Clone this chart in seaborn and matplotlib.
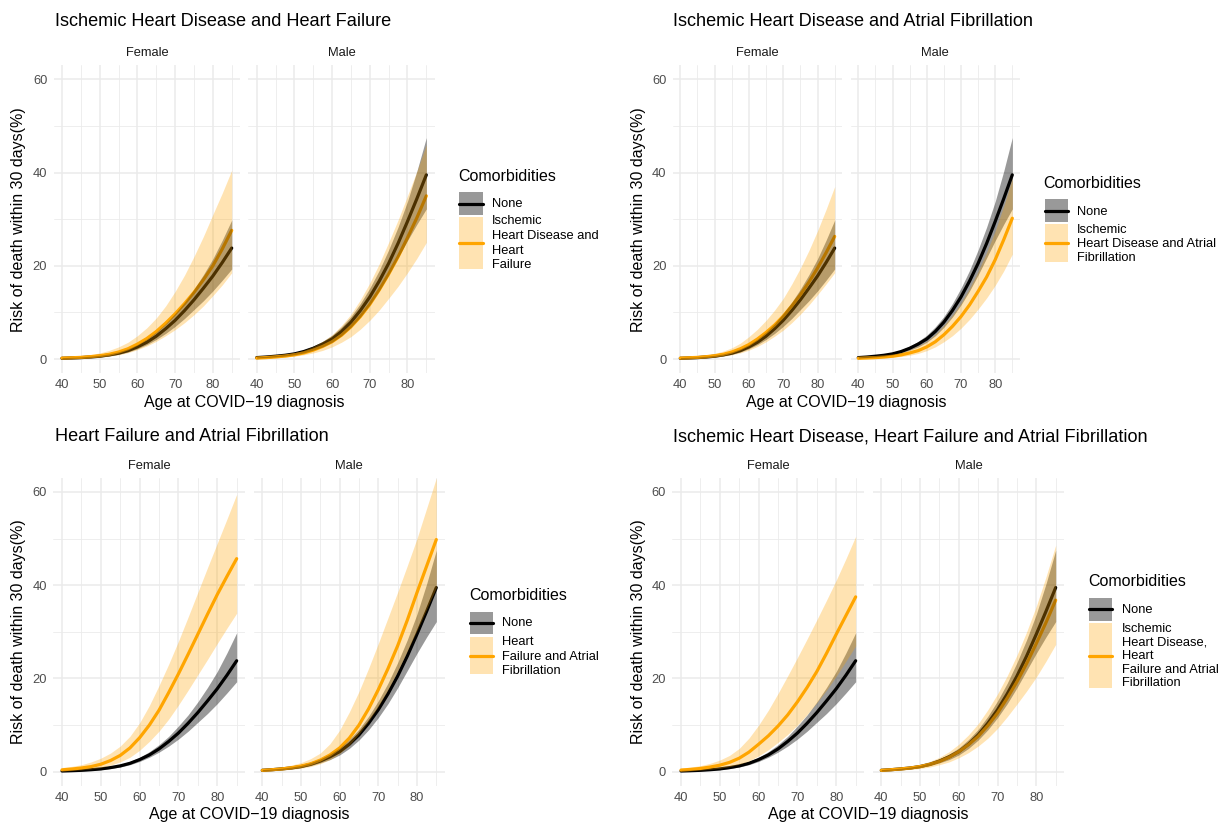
import matplotlib
matplotlib.use("Agg")
import matplotlib.pyplot as plt
import seaborn as sns
import pandas as pd
from matplotlib.patches import Rectangle
from matplotlib.lines import Line2D

# ---------------- data ----------------
ages = [40, 42.5, 45, 47.5, 50, 52.5, 55, 57.5, 60, 62.5, 65, 67.5, 70, 72.5, 75, 77.5, 80, 82.5, 85]

none_f = [0.15, 0.22, 0.3, 0.43, 0.6, 0.88, 1.25, 1.8, 2.6, 3.6, 4.9, 6.5, 8.3, 10.4, 12.7, 15.2, 17.8, 20.7, 23.8]
none_f_lo = [0.08, 0.13, 0.2, 0.3, 0.45, 0.68, 1.0, 1.5, 2.2, 3.1, 4.2, 5.5, 7.0, 8.7, 10.6, 12.5, 14.6, 16.9, 19.3]
none_f_hi = [0.3, 0.37, 0.45, 0.6, 0.8, 1.1, 1.55, 2.2, 3.1, 4.3, 5.8, 7.6, 9.8, 12.2, 15.0, 18.1, 21.5, 25.5, 29.8]
none_m = [0.3, 0.43, 0.6, 0.8, 1.1, 1.6, 2.3, 3.2, 4.3, 5.9, 7.9, 10.4, 13.3, 16.7, 20.5, 24.8, 29.5, 34.4, 39.5]
none_m_lo = [0.2, 0.3, 0.45, 0.63, 0.9, 1.3, 1.9, 2.6, 3.6, 5.0, 6.8, 9.0, 11.6, 14.6, 18.0, 21.7, 25.4, 28.9, 32.2]
none_m_hi = [0.45, 0.58, 0.75, 1.0, 1.35, 1.95, 2.75, 3.8, 5.1, 6.9, 9.1, 11.9, 15.2, 19.0, 23.4, 28.3, 33.8, 40.3, 47.5]

ihd_hf_f = [0.2, 0.27, 0.35, 0.5, 0.7, 1.0, 1.5, 2.2, 3.2, 4.4, 5.9, 7.7, 9.7, 11.9, 14.3, 17.0, 20.0, 23.6, 27.6]
ihd_hf_f_lo = [0.05, 0.1, 0.15, 0.26, 0.4, 0.6, 0.9, 1.35, 2.0, 2.8, 3.8, 5.0, 6.3, 7.8, 9.5, 11.4, 13.6, 15.9, 18.5]
ihd_hf_f_hi = [0.45, 0.56, 0.7, 0.95, 1.3, 1.85, 2.6, 3.6, 5.0, 6.7, 8.8, 11.4, 14.5, 18.0, 22.0, 26.3, 31.0, 35.6, 40.5]
ihd_hf_m = [0.2, 0.3, 0.45, 0.63, 0.9, 1.3, 1.9, 2.7, 3.7, 5.1, 6.9, 9.1, 11.7, 14.8, 18.2, 21.9, 26.0, 30.3, 35.0]
ihd_hf_m_lo = [0.1, 0.16, 0.25, 0.4, 0.6, 0.9, 1.3, 1.85, 2.6, 3.6, 4.8, 6.4, 8.3, 10.5, 13.0, 15.6, 18.5, 21.6, 25.0]
ihd_hf_m_hi = [0.45, 0.56, 0.7, 0.95, 1.3, 1.9, 2.7, 3.8, 5.2, 7.2, 9.6, 12.7, 16.3, 20.4, 25.0, 29.8, 35.0, 40.3, 46.0]

ihd_af_f = [0.2, 0.27, 0.35, 0.5, 0.7, 1.0, 1.5, 2.2, 3.1, 4.3, 5.7, 7.3, 9.2, 11.4, 13.8, 16.5, 19.5, 22.8, 26.3]
ihd_af_f_lo = [0.05, 0.1, 0.15, 0.26, 0.4, 0.6, 0.9, 1.3, 1.9, 2.7, 3.7, 4.9, 6.2, 7.8, 9.6, 11.6, 13.8, 16.1, 18.5]
ihd_af_f_hi = [0.45, 0.56, 0.7, 0.9, 1.2, 1.7, 2.4, 3.4, 4.8, 6.4, 8.3, 10.5, 13.0, 16.1, 19.5, 23.3, 27.5, 32.1, 37.0]
ihd_af_m = [0.15, 0.22, 0.3, 0.43, 0.6, 0.88, 1.3, 1.8, 2.6, 3.7, 5.2, 7.0, 9.1, 11.6, 14.5, 17.6, 21.3, 25.6, 30.2]
ihd_af_m_lo = [0.05, 0.1, 0.15, 0.24, 0.35, 0.54, 0.8, 1.2, 1.8, 2.6, 3.7, 5.0, 6.6, 8.5, 10.7, 13.1, 15.8, 18.9, 22.5]
ihd_af_m_hi = [0.35, 0.44, 0.55, 0.75, 1.0, 1.4, 2.0, 2.8, 3.8, 5.3, 7.2, 9.4, 12.0, 15.2, 18.8, 22.9, 27.5, 32.8, 38.8]

hf_af_f = [0.4, 0.57, 0.8, 1.1, 1.6, 2.4, 3.5, 5.1, 7.3, 10.0, 13.2, 17.0, 21.0, 25.2, 29.5, 33.8, 38.0, 41.9, 45.7]
hf_af_f_lo = [0.15, 0.25, 0.4, 0.6, 0.9, 1.4, 2.1, 3.1, 4.6, 6.5, 8.7, 11.3, 14.3, 17.5, 20.8, 24.1, 27.5, 30.8, 34.0]
hf_af_f_hi = [0.9, 1.15, 1.5, 2.1, 2.9, 4.0, 5.5, 7.6, 10.5, 14.2, 18.5, 23.1, 28.0, 33.2, 38.5, 43.8, 49.0, 54.2, 59.5]
hf_af_m = [0.3, 0.43, 0.6, 0.85, 1.2, 1.7, 2.5, 3.6, 5.1, 7.2, 10.0, 13.5, 17.6, 22.1, 27.0, 32.5, 38.4, 44.1, 49.8]
hf_af_m_lo = [0.15, 0.23, 0.35, 0.5, 0.75, 1.1, 1.7, 2.6, 3.9, 5.7, 8.1, 10.9, 14.0, 17.6, 21.6, 25.9, 30.3, 34.9, 39.5]
hf_af_m_hi = [0.55, 0.75, 1.0, 1.4, 1.95, 2.8, 4.0, 6.0, 8.9, 12.8, 17.2, 22.2, 27.5, 33.0, 38.5, 44.2, 50.0, 56.5, 63.0]

all3_f = [0.35, 0.5, 0.7, 1.0, 1.4, 2.0, 2.9, 4.2, 5.9, 7.7, 9.8, 12.2, 15.0, 18.1, 21.5, 25.4, 29.5, 33.5, 37.5]
all3_f_lo = [0.1, 0.2, 0.35, 0.52, 0.75, 1.1, 1.6, 2.3, 3.4, 4.7, 6.3, 8.0, 10.0, 12.3, 14.8, 17.5, 20.5, 23.7, 27.0]
all3_f_hi = [0.8, 1.0, 1.3, 1.8, 2.5, 3.5, 5.0, 7.2, 10.0, 13.2, 16.8, 20.6, 24.5, 28.5, 32.6, 36.8, 41.1, 45.7, 50.5]
all3_m = [0.3, 0.43, 0.6, 0.8, 1.1, 1.55, 2.2, 3.1, 4.3, 5.8, 7.6, 9.9, 12.6, 15.8, 19.3, 23.2, 27.5, 32.0, 36.8]
all3_m_lo = [0.15, 0.23, 0.35, 0.5, 0.7, 1.0, 1.5, 2.1, 3.0, 4.1, 5.5, 7.2, 9.3, 11.8, 14.5, 17.3, 20.3, 23.7, 27.3]
all3_m_hi = [0.5, 0.67, 0.9, 1.2, 1.6, 2.2, 3.1, 4.3, 5.9, 7.9, 10.3, 13.3, 16.7, 20.6, 25.0, 30.0, 35.5, 41.8, 48.6]

titles = ["Ischemic Heart Disease and Heart Failure",
          "Ischemic Heart Disease and Atrial Fibrillation",
          "Heart Failure and Atrial Fibrillation",
          "Ischemic Heart Disease, Heart Failure and Atrial Fibrillation"]
legend_labels = [["Ischemic", "Heart Disease and", "Heart", "Failure"],
                 ["Ischemic", "Heart Disease and Atrial", "Fibrillation"],
                 ["Heart", "Failure and Atrial", "Fibrillation"],
                 ["Ischemic", "Heart Disease,", "Heart", "Failure and Atrial", "Fibrillation"]]
sexes = ["Female", "Male"]
x_ticks = [40, 50, 60, 70, 80]
y_ticks = [0, 20, 40, 60]

comorb = [
    {"Female": (ihd_hf_f, ihd_hf_f_lo, ihd_hf_f_hi), "Male": (ihd_hf_m, ihd_hf_m_lo, ihd_hf_m_hi)},
    {"Female": (ihd_af_f, ihd_af_f_lo, ihd_af_f_hi), "Male": (ihd_af_m, ihd_af_m_lo, ihd_af_m_hi)},
    {"Female": (hf_af_f, hf_af_f_lo, hf_af_f_hi), "Male": (hf_af_m, hf_af_m_lo, hf_af_m_hi)},
    {"Female": (all3_f, all3_f_lo, all3_f_hi), "Male": (all3_m, all3_m_lo, all3_m_hi)},
]
none_ref = {"Female": (none_f, none_f_lo, none_f_hi), "Male": (none_m, none_m_lo, none_m_hi)}

# ---------------- style ----------------
sns.set_theme(style="white")
plt.rcParams["font.family"] = ["Liberation Sans", "DejaVu Sans"]

W, H = 1221, 824
fig = plt.figure(figsize=(W / 100, H / 100), dpi=100)
fig.patch.set_facecolor("white")

BLACK = "#000000"
ORANGE = "#FFA500"
GRID = "#EBEBEB"
TICK_FS = 9.3
LEG_FS = 9.3
AXT_FS = 11.5


def fx(x):
    return x / W


def fy(y):
    return 1 - y / H


def ftext(x, y, s, **kw):
    fig.text(fx(x), fy(y), s, **kw)


# panel layout in pixels: (female x0, x1, male x0, x1, y0, y1)
layout = [
    (53.5, 240.2, 248.2, 434.8, 65.3, 373.0),
    (672.6, 842.4, 850.6, 1020.0, 65.3, 373.0),
    (53.3, 245.4, 253.6, 445.0, 478.0, 785.7),
    (672.3, 864.4, 872.6, 1064.4, 478.0, 785.7),
]
title_pos = [(55, 26.5), (673, 26.5), (55, 441), (673, 441)]
xlab_pos = [(244, 402), (846, 402), (249, 815), (868, 815)]
ylab_x = [19, 638, 19, 638]

legend_geo = [
    ((458.3, 176.7), (459.3, 482.7), (192.3, 215.0), (217.3, 269.0), 491.7, 204.0, [221.5, 236.0, 250.5, 265.0]),
    ((1043.3, 184.0), (1045.0, 1067.7), (199.3, 222.3), (224.3, 261.7), 1077.3, 211.7, [230.0, 244.0, 258.0]),
    ((469.3, 595.0), (470.0, 492.7), (612.3, 634.3), (636.7, 674.3), 502.3, 623.3, [642.3, 656.5, 670.5]),
    ((1088.3, 581.7), (1089.0, 1112.3), (597.7, 621.0), (623.3, 688.3), 1121.7, 610.0, [628.5, 642.3, 656.0, 669.8, 683.5]),
]

for p in range(4):
    fx0, fx1, mx0, mx1, y0, y1 = layout[p]
    for si, sex in enumerate(sexes):
        x0, x1 = (fx0, fx1) if si == 0 else (mx0, mx1)
        ax = fig.add_axes([fx(x0), fy(y1), fx(x1) - fx(x0), (y1 - y0) / H])
        ax.set_facecolor("white")
        n, nlo, nhi = none_ref[sex]
        c, clo, chi = comorb[p][sex]
        df = pd.DataFrame({
            "age": ages + ages,
            "risk": n + c,
            "group": ["None"] * len(ages) + ["Comorb"] * len(ages),
        })
        sns.lineplot(data=df, x="age", y="risk", hue="group",
                     palette={"None": BLACK, "Comorb": ORANGE},
                     linewidth=2.3, legend=False, ax=ax, zorder=2)
        ax.fill_between(ages, nlo, nhi, color=BLACK, alpha=0.4, linewidth=0, zorder=3)
        ax.fill_between(ages, clo, chi, color=ORANGE, alpha=0.3, linewidth=0, zorder=4)
        ax.set_xlim(37.75, 87.25)
        ax.set_ylim(-3, 63)
        ax.set_xticks(x_ticks)
        ax.set_xticks([45, 55, 65, 75, 85], minor=True)
        ax.set_yticks(y_ticks)
        ax.set_yticks([10, 30, 50], minor=True)
        ax.set_xticklabels([str(t) for t in x_ticks])
        if si == 0:
            ax.set_yticklabels([str(t) for t in y_ticks])
        else:
            ax.set_yticklabels([])
        ax.grid(which="major", color=GRID, linewidth=1.1, zorder=0)
        ax.grid(which="minor", color=GRID, linewidth=0.6, zorder=0)
        ax.set_axisbelow(True)
        ax.tick_params(which="both", length=0, labelsize=TICK_FS, labelcolor="#4D4D4D", pad=4.5)
        for sp in ax.spines.values():
            sp.set_visible(False)
        ax.set_xlabel("")
        ax.set_ylabel("")
        ftext((x0 + x1) / 2, y0 - 12, sex, ha="center", va="center", fontsize=TICK_FS, color="#1A1A1A")

    tx, ty = title_pos[p]
    ftext(tx, ty, titles[p], ha="left", va="baseline", fontsize=13.1, color="black")
    lx, ly = xlab_pos[p]
    ftext(lx, ly, "Age at COVID\u221219 diagnosis", ha="center", va="center", fontsize=AXT_FS, color="black")
    ftext(ylab_x[p], (y0 + y1) / 2, "Risk of death within 30 days(%)", ha="center", va="center",
          rotation=90, fontsize=AXT_FS, color="black")

    (ltx, lty), (bx0, bx1), (ny0, ny1), (cy0, cy1), labx, nonety, lineys = legend_geo[p]
    ftext(ltx, lty, "Comorbidities", ha="left", va="center", fontsize=AXT_FS, color="black")
    fig.add_artist(Rectangle((fx(bx0), fy(ny1)), fx(bx1) - fx(bx0), (ny1 - ny0) / H,
                             transform=fig.transFigure, facecolor=BLACK, alpha=0.4, linewidth=0))
    fig.add_artist(Line2D([fx(bx0), fx(bx1)], [fy((ny0 + ny1) / 2)] * 2,
                          transform=fig.transFigure, color=BLACK, linewidth=2.3))
    fig.add_artist(Rectangle((fx(bx0), fy(cy1)), fx(bx1) - fx(bx0), (cy1 - cy0) / H,
                             transform=fig.transFigure, facecolor=ORANGE, alpha=0.3, linewidth=0))
    fig.add_artist(Line2D([fx(bx0), fx(bx1)], [fy((cy0 + cy1) / 2)] * 2,
                          transform=fig.transFigure, color=ORANGE, linewidth=2.3))
    ftext(labx, nonety, "None", ha="left", va="center", fontsize=LEG_FS, color="black")
    for line, yy in zip(legend_labels[p], lineys):
        ftext(labx, yy, line, ha="left", va="center", fontsize=LEG_FS, color="black")

fig.savefig("out.png", dpi=100, facecolor="white")
